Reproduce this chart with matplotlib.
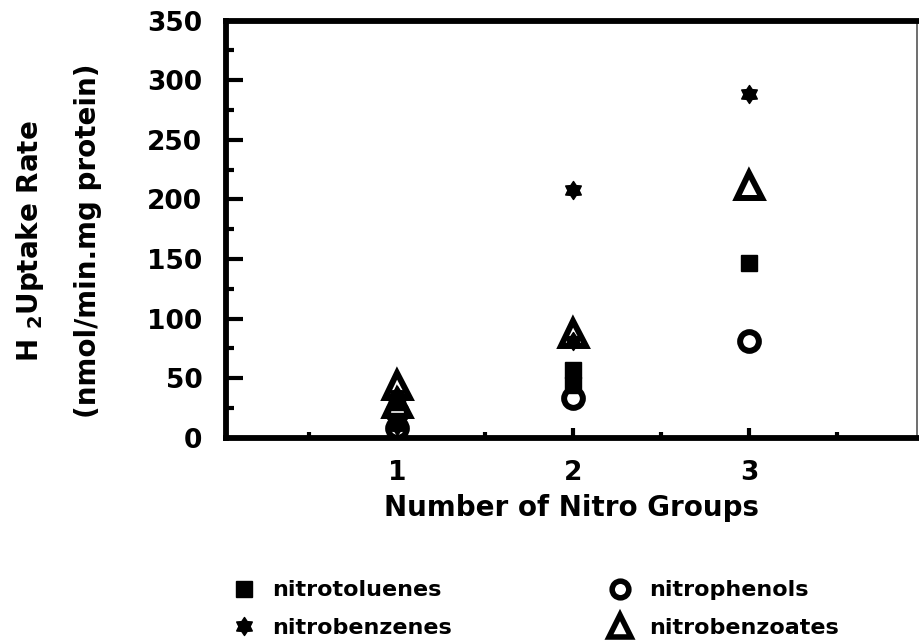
import numpy as np
import matplotlib
matplotlib.use('Agg')
import matplotlib.pyplot as plt
from matplotlib.lines import Line2D
from matplotlib.path import Path

plt.rcParams['font.family'] = 'DejaVu Sans'
plt.rcParams['font.weight'] = 'bold'
plt.rcParams['mathtext.fontset'] = 'dejavusans'

# values (nmol/min.mg protein)
toluene_x = [1, 1, 2, 2, 3]
toluene_y = [30, 14, 57, 44, 147]
benzene_x = [1, 1, 2, 2, 3]
benzene_y = [36, 10, 208, 81, 288]
phenol_x = [1, 1, 2, 3]
phenol_y = [22, 8, 33, 81]
benzoate_x = [1, 1, 2, 3]
benzoate_y = [44, 29, 88, 212]

labels = ['nitrotoluenes', 'nitrobenzenes', 'nitrophenols', 'nitrobenzoates']
xticks = [1, 2, 3]
yticks = [0, 50, 100, 150, 200, 250, 300, 350]

# fat six-pointed star like the one in the original
ang = np.pi / 2 + np.arange(12) * np.pi / 6
rad = np.where(np.arange(12) % 2 == 0, 1.0, 0.62)
verts = np.column_stack([rad * np.cos(ang), rad * np.sin(ang)])
star = Path(np.vstack([verts, verts[:1]]), closed=True)

fig = plt.figure(figsize=(9.19, 6.42), dpi=100)
ax = fig.add_axes([0.246, 0.318, 0.752, 0.650])

ax.plot(benzoate_x, benzoate_y, '^', ms=18, mfc='white', mec='black', mew=4.3, ls='none', zorder=3)
ax.plot(phenol_x, phenol_y, 'o', ms=13.5, mfc='white', mec='black', mew=4.3, ls='none', zorder=3)
ax.plot(toluene_x, toluene_y, 's', ms=12, color='black', ls='none', zorder=4)
ax.plot(benzene_x, benzene_y, marker=star, ms=13, color='black', ls='none', zorder=4)

ax.set_xlim(0.03, 3.955)
ax.set_ylim(0, 350)
ax.set_xticks(xticks)
ax.set_xticks([0.5, 1.5, 2.5, 3.5], minor=True)
ax.set_yticks(yticks)
ax.set_yticks(np.arange(25, 350, 50), minor=True)
ax.tick_params(axis='y', which='major', direction='in', length=12, width=3, labelsize=19, pad=17)
ax.tick_params(axis='y', which='minor', direction='in', length=6, width=3)
ax.tick_params(axis='x', which='major', direction='in', length=7, width=3, labelsize=19, pad=16)
ax.tick_params(axis='x', which='minor', direction='in', length=4, width=3)

for s in ['left', 'bottom', 'top']:
    ax.spines[s].set_linewidth(4.2)
ax.spines['right'].set_linewidth(1.2)
ax.spines['right'].set_color('#555555')

ax.set_xlabel('Number of Nitro Groups', fontsize=20, fontweight='bold', labelpad=6)
fig.text(30 / 919, 0.625, r'H $_{\mathbf{2}}$Uptake Rate', rotation=90,
         ha='center', va='center', fontsize=20, fontweight='bold')
fig.text(88 / 919, 0.625, '(nmol/min.mg protein)', rotation=90,
         ha='center', va='center', fontsize=20, fontweight='bold')

h_tol = Line2D([], [], marker='s', ms=12, color='black', ls='none')
h_ben = Line2D([], [], marker=star, ms=13, color='black', ls='none')
h_phe = Line2D([], [], marker='o', ms=12, mfc='white', mec='black', mew=4.0, ls='none')
h_bzo = Line2D([], [], marker='^', ms=16, mfc='white', mec='black', mew=4.0, ls='none')

leg_kw = dict(loc='center left', frameon=False, borderaxespad=0, borderpad=0,
              handlelength=1.0, handletextpad=0.8, labelspacing=0.8,
              prop={'size': 16, 'weight': 'bold'})
leg1 = fig.legend([h_tol, h_ben], labels[:2], bbox_to_anchor=(0.253, 0.051), **leg_kw)
leg2 = fig.legend([h_phe, h_bzo], labels[2:], bbox_to_anchor=(0.663, 0.051), **leg_kw)

plt.savefig('out.png', dpi=100)
